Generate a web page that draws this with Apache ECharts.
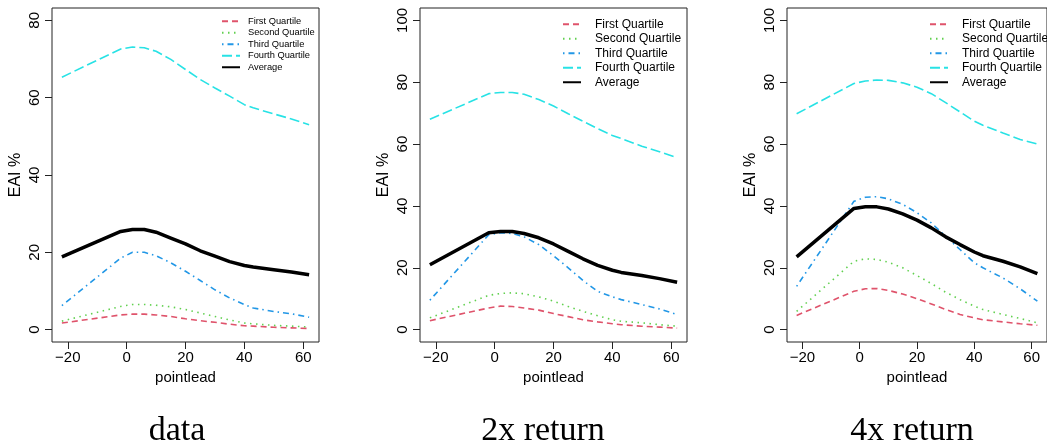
<!DOCTYPE html>
<html>
<head>
<meta charset="utf-8">
<script src="https://cdn.jsdelivr.net/npm/echarts@6/dist/echarts.min.js"></script>
<style>
  html, body { margin: 0; padding: 0; background: #fff; }
  #chart { width: 1047px; height: 445px; }
</style>
</head>
<body>
<div id="chart"></div>
<script>
  // pointlead values shared by all panels
  const pointlead = [-22, -2, 2, 6, 10, 15, 20, 25, 30, 35, 40, 43, 50, 56, 62]

  // panel 1: data
  const dataQ1 = [1.7, 3.8, 4.0, 4.0, 3.8, 3.4, 2.8, 2.3, 1.9, 1.4, 1.0, 0.9, 0.6, 0.45, 0.3]
  const dataQ2 = [2.2, 6.0, 6.5, 6.5, 6.3, 5.9, 5.2, 4.3, 3.4, 2.5, 1.7, 1.5, 1.1, 0.9, 0.7]
  const dataQ3 = [6.2, 18.5, 20.0, 20.0, 19.1, 17.3, 15.1, 12.7, 10.3, 8.2, 6.5, 5.6, 4.7, 4.1, 3.2]
  const dataQ4 = [65.3, 72.6, 73.1, 72.9, 72.0, 69.9, 67.3, 64.7, 62.5, 60.4, 58.2, 57.4, 55.8, 54.5, 53.0]
  const dataAvg = [18.8, 25.4, 25.9, 25.9, 25.2, 23.7, 22.2, 20.4, 19.0, 17.6, 16.6, 16.2, 15.5, 14.9, 14.2]

  // panel 2: 2x return
  const ret2Q1 = [2.9, 7.0, 7.6, 7.5, 7.0, 6.3, 5.2, 4.2, 3.2, 2.5, 1.9, 1.6, 1.1, 0.8, 0.5]
  const ret2Q2 = [3.8, 11.1, 11.7, 11.9, 11.6, 10.6, 9.2, 7.5, 5.9, 4.5, 3.2, 2.7, 2.2, 1.6, 1.1]
  const ret2Q3 = [9.5, 30.7, 31.3, 31.1, 30.0, 27.5, 23.9, 20.0, 15.9, 12.4, 10.6, 9.7, 8.1, 6.7, 4.9]
  const ret2Q4 = [68.0, 76.3, 76.7, 76.7, 76.1, 74.4, 72.3, 69.8, 67.4, 65.0, 62.8, 61.8, 59.3, 57.5, 55.6]
  const ret2Avg = [21.0, 31.3, 31.7, 31.7, 31.1, 29.7, 27.7, 25.3, 22.9, 20.8, 19.2, 18.5, 17.5, 16.5, 15.3]

  // panel 3: 4x return
  const ret4Q1 = [4.6, 12.4, 13.2, 13.3, 12.7, 11.5, 10.0, 8.3, 6.5, 4.9, 3.8, 3.2, 2.5, 1.9, 1.4]
  const ret4Q2 = [5.9, 22.1, 22.9, 22.7, 21.8, 20.0, 17.5, 14.9, 12.1, 9.7, 7.6, 6.5, 4.9, 3.6, 2.2]
  const ret4Q3 = [14.0, 41.5, 42.8, 43.0, 42.3, 40.5, 37.8, 34.5, 30.2, 25.9, 21.6, 20.0, 16.7, 13.2, 9.2]
  const ret4Q4 = [69.8, 79.6, 80.4, 80.7, 80.6, 79.8, 78.4, 76.3, 73.4, 70.4, 67.4, 66.1, 63.6, 61.5, 60.0]
  const ret4Avg = [23.5, 39.2, 39.7, 39.7, 39.0, 37.4, 35.4, 32.9, 30.0, 27.5, 25.1, 23.9, 22.1, 20.3, 18.1]

  const xTicks = [-20, 0, 20, 40, 60]
  const yTicks1 = [0, 20, 40, 60, 80]
  const yTicks2 = [0, 20, 40, 60, 80, 100]
  const seriesNames = ['First Quartile', 'Second Quartile', 'Third Quartile', 'Fourth Quartile', 'Average']
  const captions = ['data', '2x return', '4x return']

  const panels = [
    { values: [dataQ1, dataQ2, dataQ3, dataQ4, dataAvg], yTicks: yTicks1, yMin: -3.2, yMax: 83.2,
      left: 52, width: 267, legendLeft: 221, legendTop: 15.5, legendRow: 11.5, legendFont: 9.3, legendPad: 3, capX: 172 },
    { values: [ret2Q1, ret2Q2, ret2Q3, ret2Q4, ret2Avg], yTicks: yTicks2, yMin: -4, yMax: 104,
      left: 420, width: 267, legendLeft: 562, legendTop: 17, legendRow: 14.5, legendFont: 12, legendPad: 9, capX: 538 },
    { values: [ret4Q1, ret4Q2, ret4Q3, ret4Q4, ret4Avg], yTicks: yTicks2, yMin: -4, yMax: 104,
      left: 787, width: 272, legendLeft: 929, legendTop: 17, legendRow: 14.5, legendFont: 12, legendPad: 9, capX: 907 }
  ]

  // R-like line styles
  const lineStyles = [
    { color: '#DF536B', width: 1.6, type: [6, 4] },
    { color: '#61D04F', width: 1.6, type: [1.5, 4.5] },
    { color: '#2297E6', width: 1.6, type: [1.5, 4, 6, 4] },
    { color: '#28E2E5', width: 1.6, type: [10, 4] },
    { color: '#000000', width: 3.5, type: 'solid' }
  ]

  const font = 'Liberation Sans, Arial, sans-serif'
  const grid = [], xAxis = [], yAxis = [], series = [], legend = [], title = []

  panels.forEach((p, i) => {
    grid.push({ left: p.left, top: 8, width: p.width, height: 334, show: true,
      borderColor: '#222', borderWidth: 1, backgroundColor: 'transparent' })
    xAxis.push({
      type: 'value', gridIndex: i, min: -25.36, max: 65.36,
      name: 'pointlead', nameLocation: 'middle', nameGap: 24,
      nameTextStyle: { fontFamily: font, fontSize: 15, color: '#000' },
      axisLine: { show: false, onZero: false },
      axisTick: { show: true, inside: false, length: 7, customValues: xTicks, lineStyle: { color: '#222' } },
      axisLabel: { customValues: xTicks, margin: 8, fontFamily: font, fontSize: 15, color: '#000',
        formatter: (v) => String(v).replace('-', '\u2212') },
      splitLine: { show: false }
    })
    yAxis.push({
      type: 'value', gridIndex: i, min: p.yMin, max: p.yMax,
      name: 'EAI %', nameLocation: 'middle', nameGap: 28,
      nameTextStyle: { fontFamily: font, fontSize: 16, color: '#000' },
      axisLine: { show: false, onZero: false },
      axisTick: { show: true, inside: false, length: 7, customValues: p.yTicks, lineStyle: { color: '#222' } },
      axisLabel: { customValues: p.yTicks, rotate: 90, margin: 10, fontFamily: font, fontSize: 15, color: '#000' },
      splitLine: { show: false }
    })
    p.values.forEach((vals, k) => {
      series.push({
        name: seriesNames[k], type: 'line', xAxisIndex: i, yAxisIndex: i,
        data: pointlead.map((x, j) => [x, vals[j]]),
        showSymbol: false, symbol: 'none', smooth: false,
        lineStyle: lineStyles[k], itemStyle: { color: lineStyles[k].color },
        z: k === 4 ? 3 : 2
      })
    })
    // legend: line sample only, symbol hidden
    legend.push({
      orient: 'vertical', left: p.legendLeft, top: p.legendTop, padding: 0, itemGap: 0,
      itemWidth: 18, itemHeight: p.legendRow,
      data: seriesNames,
      itemStyle: { opacity: 0 },
      textStyle: { fontFamily: font, fontSize: p.legendFont, color: '#000',
        lineHeight: p.legendRow, padding: [0, 0, 0, p.legendPad] },
      selectedMode: false
    })
    title.push({
      text: captions[i], left: p.capX, top: 409, textAlign: 'center',
      textStyle: { fontFamily: 'Liberation Serif, Times New Roman, serif', fontSize: 34, fontWeight: 'normal', color: '#000' }
    })
  })

  const chart = echarts.init(document.getElementById('chart'), null, { renderer: 'canvas' })
  chart.setOption({
    animation: false,
    backgroundColor: '#fff',
    title, grid, xAxis, yAxis, legend, series
  })
</script>
</body>
</html>
